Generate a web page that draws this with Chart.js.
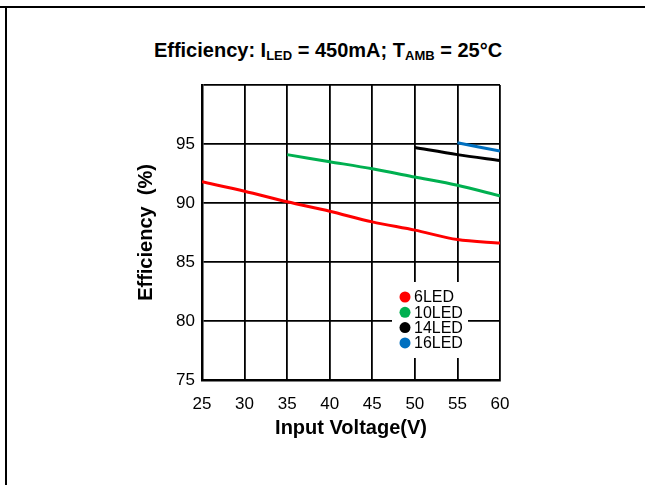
<!DOCTYPE html>
<html>
<head>
<meta charset="utf-8">
<script src="https://cdn.jsdelivr.net/npm/chart.js@4.4.1/dist/chart.umd.min.js"></script>
<style>
    html, body { margin: 0; padding: 0; background: #fff; }
    #wrap { position: relative; width: 645px; height: 485px; }
    #frame-top { position: absolute; left: 0; top: 6px; width: 645px; height: 2px; background: #000; }
    #frame-left { position: absolute; left: 5px; top: 6px; width: 2px; height: 479px; background: #000; }
    #title {
        position: absolute; left: 0; top: 40px; width: 656px; text-align: center;
        font: bold 20px/20px "Liberation Sans", Arial, sans-serif; color: #000;
    }
    #title sub { font-size: 13px; vertical-align: -3px; }
    canvas { position: absolute; left: 0; top: 0; }
</style>
</head>
<body>
<div id="wrap">
    <div id="frame-top"></div>
    <div id="frame-left"></div>
    <div id="title">Efficiency: I<sub>LED</sub> = 450mA; T<sub>AMB</sub> = 25°C</div>
    <canvas id="chart" width="645" height="485"></canvas>
</div>
<script>
// input voltage (V)
const voltage = [25, 30, 35, 40, 45, 50, 55, 60];
// efficiency (%), null where the string is not run
const led6 = [91.8, 91.0, 90.1, 89.3, 88.4, 87.7, 86.9, 86.6];
const led10 = [null, null, 94.1, 93.5, 92.9, 92.2, 91.5, 90.6];
const led14 = [null, null, null, null, null, 94.7, 94.1, 93.6];
const led16 = [null, null, null, null, null, null, 95.1, 94.4];
const xTicks = [25, 30, 35, 40, 45, 50, 55, 60];
const yTicks = [75, 80, 85, 90, 95, 100];

const FONT = "'Liberation Sans', Arial, sans-serif";

function points(values) {
    const out = [];
    values.forEach((v, i) => {
        if (v !== null) out.push({ x: voltage[i], y: v });
    });
    return out;
}

const series = [
    { label: "6LED", values: led6, color: "#ff0000" },
    { label: "10LED", values: led10, color: "#00b050" },
    { label: "14LED", values: led14, color: "#000000" },
    { label: "16LED", values: led16, color: "#0070c0" },
];

// legend box drawn inside the plot, over the grid but under the lines
const insideLegend = {
    id: "insideLegend",
    beforeDatasetsDraw(chart) {
        const { ctx, chartArea } = chart;
        const left = chartArea.right - 108;
        const top = chartArea.bottom - 98;
        ctx.save();
        ctx.fillStyle = "#fff";
        ctx.fillRect(left, top, 76, 76);
        ctx.font = "16px " + FONT;
        ctx.textBaseline = "middle";
        chart.data.datasets.forEach((ds, i) => {
            const y = top + 15 + i * 15.3;
            ctx.fillStyle = ds.borderColor;
            ctx.beginPath();
            ctx.arc(left + 13, y, 5.5, 0, Math.PI * 2);
            ctx.fill();
            ctx.fillStyle = "#000";
            ctx.fillText(ds.label, left + 22, y + 1);
        });
        ctx.restore();
    },
};

new Chart(document.getElementById("chart"), {
    type: "line",
    data: {
        datasets: series.map((s) => ({
            label: s.label,
            data: points(s.values),
            borderColor: s.color,
            backgroundColor: s.color,
            borderWidth: 3,
            pointRadius: 0,
            tension: 0.3,
        })),
    },
    options: {
        responsive: false,
        animation: false,
        layout: { padding: { left: 130, right: 145, top: 85, bottom: 41 } },
        plugins: { legend: { display: false }, tooltip: { enabled: false } },
        scales: {
            x: {
                type: "linear",
                min: 25,
                max: 60,
                afterBuildTicks: (scale) => { scale.ticks = xTicks.map((v) => ({ value: v })); },
                afterFit: (scale) => { scale.height = 64; },
                ticks: { color: "#000", font: { family: FONT, size: 17 }, padding: 14, maxRotation: 0 },
                grid: { color: "#000", lineWidth: 1.8, drawTicks: false },
                border: { color: "#000", width: 2.5 },
                title: {
                    display: true,
                    text: "Input Voltage(V)",
                    color: "#000",
                    font: { family: FONT, size: 20, weight: "bold" },
                    padding: { top: 0 },
                },
            },
            y: {
                min: 75,
                max: 100,
                afterBuildTicks: (scale) => { scale.ticks = yTicks.map((v) => ({ value: v })); },
                afterFit: (scale) => { scale.width = 72; },
                ticks: {
                    color: "#000",
                    font: { family: FONT, size: 17 },
                    padding: 7,
                    callback: (v) => (v === 100 ? "" : v),
                },
                grid: { color: "#000", lineWidth: 1.8, drawTicks: false },
                border: { color: "#000", width: 2.5 },
                title: {
                    display: true,
                    text: "Efficiency  (%)",
                    color: "#000",
                    font: { family: FONT, size: 20, weight: "bold" },
                    padding: { bottom: 0 },
                },
            },
        },
    },
    plugins: [insideLegend],
});
</script>
</body>
</html>
